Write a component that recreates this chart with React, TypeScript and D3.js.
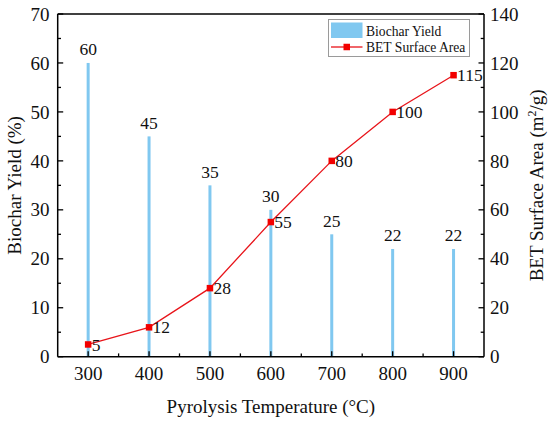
import React from "react";
import * as d3 from "d3";

const temperatures = [300, 400, 500, 600, 700, 800, 900];
const biocharYield = [60, 45, 35, 30, 25, 22, 22];
const betSurfaceArea = [5, 12, 28, 55, 80, 100, 115];
const xTicks = [300, 400, 500, 600, 700, 800, 900];
const yLeftTicks = [0, 10, 20, 30, 40, 50, 60, 70];
const yRightTicks = [0, 20, 40, 60, 80, 100, 120, 140];

const W = 550;
const H = 422;
const M = { left: 57.7, right: 484, top: 14, bottom: 356.7 };
const FONT = "'Liberation Serif', 'Times New Roman', serif";
const BAR_COLOR = "#80c8f0";
const LINE_COLOR = "#e8141a";
const MARK_COLOR = "#f20000";

export default function App() {
  const x = d3.scaleLinear().domain([250, 950]).range([M.left, M.right]);
  const yL = d3.scaleLinear().domain([0, 70]).range([M.bottom, M.top]);
  const yR = d3.scaleLinear().domain([0, 140]).range([M.bottom, M.top]);

  const line = d3
    .line<number>()
    .x((_, i) => x(temperatures[i]))
    .y((d) => yR(d));

  const xMinor = d3.range(350, 950, 100);
  const yLMinor = d3.range(5, 70, 10);
  const yRMinor = d3.range(10, 140, 20);
  const barW = 3;
  const mk = 6.5;

  return (
    <svg
      width={W}
      height={H}
      style={{ position: "absolute", left: 0, top: 0, background: "#fff" }}
      fontFamily={FONT}
    >
      <rect x={0} y={0} width={W} height={H} fill="#fff" />
      {/* bars */}
      {biocharYield.map((v, i) => (
        <rect
          key={"b" + i}
          x={x(temperatures[i]) - barW / 2}
          y={yL(v)}
          width={barW}
          height={yL(0) - yL(v)}
          fill={BAR_COLOR}
        />
      ))}
      {/* bar labels */}
      {biocharYield.map((v, i) => (
        <text
          key={"bl" + i}
          x={x(temperatures[i])}
          y={yL(v) - 7.5}
          textAnchor="middle"
          fontSize={17.5}
          fill="#111"
        >
          {v}
        </text>
      ))}
      {/* line */}
      <path d={line(betSurfaceArea) || ""} fill="none" stroke={LINE_COLOR} strokeWidth={1.3} />
      {betSurfaceArea.map((v, i) => (
        <rect
          key={"m" + i}
          x={x(temperatures[i]) - mk / 2}
          y={yR(v) - mk / 2}
          width={mk}
          height={mk}
          fill={MARK_COLOR}
        />
      ))}
      {betSurfaceArea.map((v, i) => (
        <text
          key={"ml" + i}
          x={x(temperatures[i]) + 3.5}
          y={yR(v)}
          dy="0.35em"
          fontSize={17.5}
          fill="#111"
        >
          {v}
        </text>
      ))}
      {/* frame */}
      <line x1={M.left} x2={M.right} y1={M.top} y2={M.top} stroke="#000" strokeWidth={1.5} />
      <line x1={M.left} x2={M.right} y1={M.bottom} y2={M.bottom} stroke="#000" strokeWidth={1.5} />
      <line x1={M.left} x2={M.left} y1={M.top} y2={M.bottom} stroke="#000" strokeWidth={1.5} />
      <line x1={M.right} x2={M.right} y1={M.top} y2={M.bottom} stroke="#000" strokeWidth={1.5} />
      {/* x ticks */}
      {xTicks.map((t) => (
        <g key={"xt" + t}>
          <line x1={x(t)} x2={x(t)} y1={M.bottom} y2={M.bottom - 5.5} stroke="#000" strokeWidth={1.3} />
          <text x={x(t)} y={379.5} textAnchor="middle" fontSize={19} fill="#111">
            {t}
          </text>
        </g>
      ))}
      {xMinor.map((t) => (
        <line key={"xm" + t} x1={x(t)} x2={x(t)} y1={M.bottom} y2={M.bottom - 3.3} stroke="#000" strokeWidth={1.3} />
      ))}
      {/* left ticks */}
      {yLeftTicks.map((t) => (
        <g key={"yl" + t}>
          <line x1={M.left} x2={M.left + 5.5} y1={yL(t)} y2={yL(t)} stroke="#000" strokeWidth={1.3} />
          <text x={49.5} y={yL(t)} dy="0.35em" textAnchor="end" fontSize={19} fill="#111">
            {t}
          </text>
        </g>
      ))}
      {yLMinor.map((t) => (
        <line key={"ylm" + t} x1={M.left} x2={M.left + 3.3} y1={yL(t)} y2={yL(t)} stroke="#000" strokeWidth={1.3} />
      ))}
      {/* right ticks */}
      {yRightTicks.map((t) => (
        <g key={"yr" + t}>
          <line x1={M.right} x2={M.right - 5.5} y1={yR(t)} y2={yR(t)} stroke="#000" strokeWidth={1.3} />
          <text x={490} y={yR(t)} dy="0.35em" textAnchor="start" fontSize={19} fill="#111">
            {t}
          </text>
        </g>
      ))}
      {yRMinor.map((t) => (
        <line key={"yrm" + t} x1={M.right} x2={M.right - 3.3} y1={yR(t)} y2={yR(t)} stroke="#000" strokeWidth={1.3} />
      ))}
      {/* axis titles */}
      <text x={(M.left + M.right) / 2} y={412.5} textAnchor="middle" fontSize={19} fill="#111">
        Pyrolysis Temperature (°C)
      </text>
      <text
        transform={`translate(21,${(M.top + M.bottom) / 2}) rotate(-90)`}
        textAnchor="middle"
        fontSize={19}
        fill="#111"
      >
        Biochar Yield (%)
      </text>
      <text
        transform={`translate(543,${(M.top + M.bottom) / 2}) rotate(-90)`}
        textAnchor="middle"
        fontSize={19}
        fill="#111"
      >
        BET Surface Area (m
        <tspan baselineShift="super" fontSize={12}>2</tspan>
        /g)
      </text>
      {/* legend */}
      <rect x={328.5} y={19.5} width={141} height={37} fill="#fff" stroke="#9a9a9a" strokeWidth={1} />
      <rect x={331} y={22.5} width={31.5} height={15.5} fill={BAR_COLOR} />
      <text x={366} y={35.5} fontSize={13.6} fill="#111">
        Biochar Yield
      </text>
      <line x1={331} x2={362.5} y1={47} y2={47} stroke={LINE_COLOR} strokeWidth={1.3} />
      <rect x={346.75 - 3.25} y={47 - 3.25} width={6.5} height={6.5} fill={MARK_COLOR} />
      <text x={366} y={51.7} fontSize={13.6} fill="#111">
        BET Surface Area
      </text>
    </svg>
  );
}
